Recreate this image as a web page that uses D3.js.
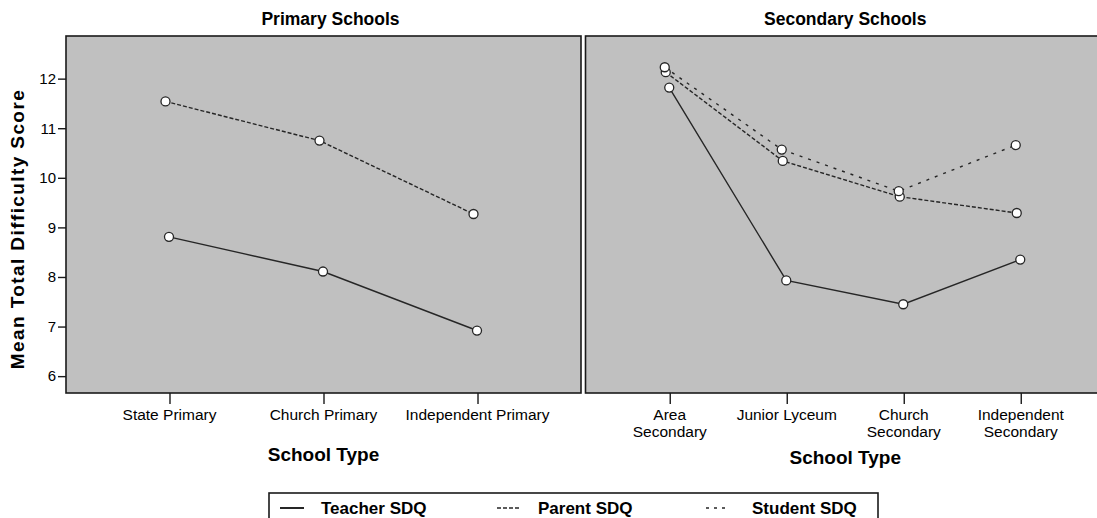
<!DOCTYPE html>
<html>
<head>
<meta charset="utf-8">
<script src="https://cdn.jsdelivr.net/npm/d3@7"></script>
<style>
  html, body { margin: 0; padding: 0; background: #fff; }
  svg text { font-family: "Liberation Sans", Arial, sans-serif; fill: #000; }
</style>
</head>
<body>
<svg id="chart" width="1097" height="518"></svg>
<script>
// ---- Data ----
const primaryCats = ["State Primary", "Church Primary", "Independent Primary"];
const secondaryCats = ["Area Secondary", "Junior Lyceum", "Church Secondary", "Independent Secondary"];
const secondaryTickLabels = [["Area", "Secondary"], ["Junior Lyceum"], ["Church", "Secondary"], ["Independent", "Secondary"]];
const yTicks = [6, 7, 8, 9, 10, 11, 12];

const teacherPrimary = [8.81, 8.11, 6.92];
const parentPrimary = [11.54, 10.75, 9.27];

const teacherSecondary = [11.82, 7.93, 7.45, 8.35];
const parentSecondary = [12.13, 10.34, 9.62, 9.29];
const studentSecondary = [12.23, 10.57, 9.73, 10.66];

const seriesNames = ["Teacher SDQ", "Parent SDQ", "Student SDQ"];

// ---- Styles ----
const dashes = { "Teacher SDQ": null, "Parent SDQ": "4,2", "Student SDQ": "3,6" };
const xShift = { "Teacher SDQ": -0.5, "Parent SDQ": -4, "Student SDQ": -5 };
const lineColor = "#262626";

const svg = d3.select("#chart");
const plotTop = 36, plotBottom = 393;

const y = d3.scaleLinear().domain([5.66, 12.86]).range([plotBottom, plotTop]);

const panels = [
  { title: "Primary Schools", x0: 66, x1: 581, cats: primaryCats, pad: 0.672,
    tickLabels: primaryCats.map(d => [d]),
    series: [["Teacher SDQ", teacherPrimary], ["Parent SDQ", parentPrimary]],
    yAxis: true, xTitleY: 461 },
  { title: "Secondary Schools", x0: 585.5, x1: 1105, cats: secondaryCats, pad: 0.72,
    tickLabels: secondaryTickLabels,
    series: [["Teacher SDQ", teacherSecondary], ["Parent SDQ", parentSecondary], ["Student SDQ", studentSecondary]],
    yAxis: false, xTitleY: 464 }
];

panels.forEach(p => {
  const x = d3.scalePoint().domain(p.cats).range([p.x0, p.x1]).padding(p.pad);
  const g = svg.append("g");

  g.append("rect")
    .attr("x", p.x0).attr("y", plotTop)
    .attr("width", p.x1 - p.x0).attr("height", plotBottom - plotTop)
    .attr("fill", "#c0c0c0").attr("stroke", "#1a1a1a").attr("stroke-width", 1.6);

  const cx = (p.x0 + p.x1) / 2;
  g.append("text").attr("x", cx + (p.yAxis ? 7 : 0)).attr("y", 25)
    .attr("text-anchor", "middle").attr("font-size", 17.5).attr("font-weight", "bold")
    .text(p.title);

  const xAxis = d3.axisBottom(x).tickSize(11).tickFormat("");
  const xa = g.append("g").attr("transform", `translate(0,${plotBottom})`).call(xAxis);
  xa.select(".domain").remove();
  xa.selectAll(".tick line").attr("stroke", "#1a1a1a").attr("stroke-width", 1.4);
  p.cats.forEach((c, i) => {
    const t = g.append("text").attr("x", x(c)).attr("y", 420)
      .attr("text-anchor", "middle").attr("font-size", 15.5);
    p.tickLabels[i].forEach((line, j) => {
      t.append("tspan").attr("x", x(c)).attr("dy", j === 0 ? 0 : 16.5).text(line);
    });
  });

  g.append("text").attr("x", cx).attr("y", p.xTitleY)
    .attr("text-anchor", "middle").attr("font-size", 19).attr("font-weight", "bold")
    .text("School Type");

  if (p.yAxis) {
    const yAxis = d3.axisLeft(y).tickValues(yTicks).tickSize(8).tickPadding(2).tickFormat(d3.format("d"));
    const ya = g.append("g").attr("transform", `translate(${p.x0},0)`).call(yAxis);
    ya.select(".domain").remove();
    ya.selectAll(".tick line").attr("stroke", "#1a1a1a").attr("stroke-width", 1.4);
    ya.selectAll(".tick text").attr("font-size", 15).attr("fill", "#000")
      .style("font-family", '"Liberation Sans", Arial, sans-serif');
  }

  p.series.forEach(([name, vals]) => {
    const pts = p.cats.map((c, i) => [x(c) + xShift[name], y(vals[i])]);
    g.append("path")
      .attr("d", d3.line()(pts))
      .attr("fill", "none").attr("stroke", lineColor).attr("stroke-width", 1.4)
      .attr("stroke-dasharray", dashes[name]);
  });
  p.series.forEach(([name, vals]) => {
    g.selectAll(null).data(p.cats).enter().append("circle")
      .attr("cx", (c) => x(c) + xShift[name])
      .attr("cy", (c, i) => y(vals[i]))
      .attr("r", 4.5)
      .attr("fill", "#fff").attr("stroke", lineColor).attr("stroke-width", 1.3);
  });
});

svg.append("text")
  .attr("transform", "translate(24,229) rotate(-90)")
  .attr("text-anchor", "middle").attr("font-size", 19).attr("font-weight", "bold")
  .attr("letter-spacing", 1.4)
  .text("Mean Total Difficulty Score");

const lg = svg.append("g");
lg.append("rect").attr("x", 269).attr("y", 493).attr("width", 609).attr("height", 40)
  .attr("fill", "#fff").attr("stroke", "#1a1a1a").attr("stroke-width", 1.6);
const legendX = [{ lx: 280, tx: 321 }, { lx: 497, tx: 538 }, { lx: 706, tx: 752 }];
seriesNames.forEach((name, i) => {
  const L = legendX[i];
  lg.append("line").attr("x1", L.lx).attr("x2", L.lx + 24).attr("y1", 508).attr("y2", 508)
    .attr("stroke", lineColor).attr("stroke-width", name === "Teacher SDQ" ? 2 : 1.6)
    .attr("stroke-dasharray", name === "Student SDQ" ? "3,5" : (name === "Parent SDQ" ? "4,2" : null));
  lg.append("text").attr("x", L.tx).attr("y", 514).attr("font-size", 17).attr("font-weight", "bold")
    .text(name);
});
</script>
</body>
</html>
